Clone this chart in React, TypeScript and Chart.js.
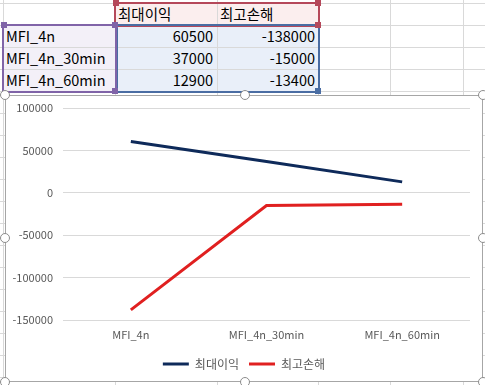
import React, { useEffect, useRef } from "react";
import { Chart, registerables } from "chart.js";
Chart.register(...registerables);

const categories = ["MFI_4n", "MFI_4n_30min", "MFI_4n_60min"];
const seriesNames = ["최대이익", "최고손해"];
const maxProfit = [60500, 37000, 12900];
const maxLoss = [-138000, -15000, -13400];
const yMin = -150000;
const yMax = 100000;
const yStep = 50000;

const colEdges = [3, 115, 217, 318, 390, 463];
const rowEdges = [3, 25, 47, 69, 91, 113, 135, 157, 179, 201, 223, 245, 267, 289, 311, 333, 355, 377];

const FONT = "'Noto Sans CJK KR', 'Noto Sans', sans-serif";
const GRID = "#d9d9d9";

const legendShift = {
  id: "legendShift",
  afterLayout(chart: any) {
    if (chart.legend) {
      chart.legend.left += 6;
      chart.legend.right += 6;
    }
  },
};

function ChartBox() {
  const ref = useRef<HTMLCanvasElement | null>(null);
  useEffect(() => {
    if (!ref.current) return;
    const chart = new Chart(ref.current, {
      type: "line",
      data: {
        labels: categories,
        datasets: [
          { label: seriesNames[0], data: maxProfit, borderColor: "#0e2a5a", backgroundColor: "#0e2a5a", borderWidth: 3, pointRadius: 0, tension: 0 },
          { label: seriesNames[1], data: maxLoss, borderColor: "#e02020", backgroundColor: "#e02020", borderWidth: 3, pointRadius: 0, tension: 0 },
        ],
      },
      options: {
        responsive: false,
        animation: false,
        maintainAspectRatio: false,
        layout: { padding: { left: 0, right: 12, top: 12, bottom: 1 } },
        scales: {
          x: {
            offset: true,
            grid: { display: false, drawTicks: false },
            border: { display: false },
            ticks: { color: "#595959", font: { family: FONT, size: 11 }, padding: 8, maxRotation: 0 },
            afterFit: (s: any) => { s.height = 28; },
          },
          y: {
            min: yMin,
            max: yMax,
            grid: { color: GRID, drawTicks: false },
            border: { display: false },
            ticks: {
              stepSize: yStep,
              color: "#595959",
              font: { family: FONT, size: 11 },
              padding: 10,
              callback: (v: any) => String(v),
            },
            afterFit: (s: any) => { s.width = 57; s.paddingTop = 0; s.paddingBottom = 0; },
          },
        },
        plugins: {
          tooltip: { enabled: false },
          legend: {
            position: "bottom",
            labels: {
              usePointStyle: true,
              pointStyle: "line",
              pointStyleWidth: 26,
              color: "#595959",
              font: { family: FONT, size: 12 },
              padding: 10,
            },
          },
        },
      },
      plugins: [legendShift],
    });
    return () => chart.destroy();
  }, []);
  return <canvas ref={ref} width={476} height={285} style={{ display: "block", width: 476, height: 285 }} />;
}

function Handle({ x, y }: { x: number; y: number }) {
  return (
    <div style={{ position: "absolute", left: x - 5, top: y - 5, width: 8, height: 8, borderRadius: "50%", background: "#fff", border: "1.5px solid #8c8c8c" }} />
  );
}

function Sq({ x, y, c }: { x: number; y: number; c: string }) {
  return <div style={{ position: "absolute", left: x - 3, top: y - 3, width: 6, height: 6, background: c }} />;
}

function Box({ x1, y1, x2, y2, c }: { x1: number; y1: number; x2: number; y2: number; c: string }) {
  return <div style={{ position: "absolute", left: x1 - 1, top: y1 - 1, width: x2 - x1 - 2, height: y2 - y1 - 2, border: `2px solid ${c}` }} />;
}

export default function App() {
  const cellText: React.CSSProperties = { position: "absolute", fontFamily: FONT, fontSize: 14.5, color: "#000", lineHeight: "22px", whiteSpace: "nowrap" };
  return (
    <div style={{ position: "fixed", left: 0, top: 0, width: 485, height: 385, background: "#fff", overflow: "hidden" }}>
      {/* fills */}
      <div style={{ position: "absolute", left: 3, top: 25, width: 112, height: 66, background: "#f3f0f8" }} />
      <div style={{ position: "absolute", left: 115, top: 3, width: 203, height: 22, background: "#fbeeee" }} />
      <div style={{ position: "absolute", left: 115, top: 25, width: 203, height: 66, background: "#e9eff9" }} />
      {/* grid */}
      {colEdges.map((x) => (
        <div key={"c" + x} style={{ position: "absolute", left: x, top: 0, width: 1, height: 385, background: GRID }} />
      ))}
      {rowEdges.map((y) => (
        <div key={"r" + y} style={{ position: "absolute", left: 0, top: y, width: 485, height: 1, background: GRID }} />
      ))}
      {/* texts */}
      <div style={{ ...cellText, left: 118, top: 3 }}>{seriesNames[0]}</div>
      <div style={{ ...cellText, left: 220, top: 3 }}>{seriesNames[1]}</div>
      {categories.map((c, i) => (
        <React.Fragment key={c}>
          <div style={{ ...cellText, left: 6, top: 25 + i * 22 }}>{c}</div>
          <div style={{ ...cellText, left: 115, width: 98, textAlign: "right", top: 25 + i * 22 }}>{maxProfit[i]}</div>
          <div style={{ ...cellText, left: 217, width: 98, textAlign: "right", top: 25 + i * 22 }}>{maxLoss[i]}</div>
        </React.Fragment>
      ))}
      {/* selection boxes */}
      <Box x1={115} y1={3} x2={319} y2={26} c="#b5485a" />
      <Box x1={117} y1={25} x2={319} y2={92} c="#4a6da3" />
      <Box x1={3} y1={25} x2={116} y2={92} c="#8064a8" />
      <Sq x={116} y={3} c="#b5485a" />
      <Sq x={318} y={3} c="#b5485a" />
      <Sq x={318} y={25} c="#b5485a" />
      <Sq x={318} y={91} c="#4a6da3" />
      <Sq x={4} y={25} c="#8064a8" />
      <Sq x={115} y={25} c="#8064a8" />
      <Sq x={115} y={91} c="#8064a8" />
      {/* chart frame */}
      <div style={{ position: "absolute", left: 5, top: 95, width: 476, height: 285, border: "1px solid #a6a6a6", background: "#fff" }}>
        <ChartBox />
      </div>
      <Handle x={5} y={95} />
      <Handle x={245} y={95} />
      <Handle x={483} y={95} />
      <Handle x={5} y={238} />
      <Handle x={483} y={238} />
      <Handle x={5} y={382} />
      <Handle x={245} y={382} />
      <Handle x={483} y={382} />
    </div>
  );
}
